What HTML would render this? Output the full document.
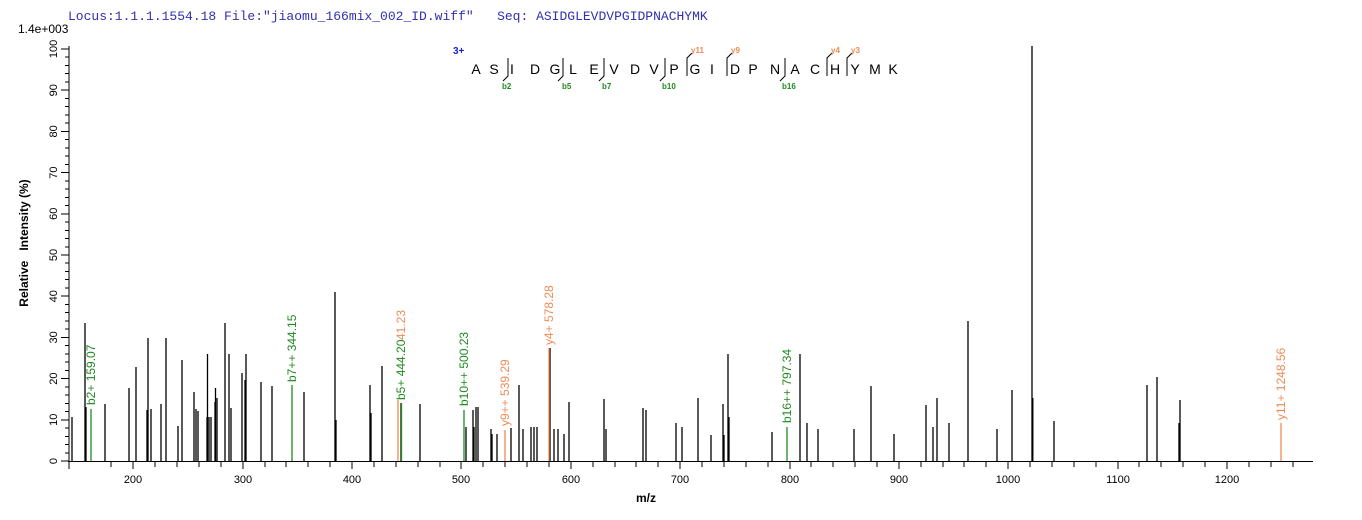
<!DOCTYPE html>
<html><head><meta charset="utf-8"><style>
html,body{margin:0;padding:0;background:#fff;}
svg{display:block;font-family:"Liberation Sans",Arial,sans-serif;}
</style></head><body>
<svg width="1362" height="520" viewBox="0 0 1362 520" xmlns="http://www.w3.org/2000/svg">
<text x="68" y="20" font-family="Liberation Mono, monospace" font-size="13" fill="#3030b0" xml:space="preserve">Locus:1.1.1.1554.18 File:"jiaomu_166mix_002_ID.wiff"   Seq: ASIDGLEVDVPGIDPNACHYMK</text>
<text x="18" y="33" font-size="12" fill="#000">1.4e+003</text>

<!-- axes -->
<g stroke="#000" stroke-width="1" shape-rendering="crispEdges">
<line x1="69" y1="46" x2="69" y2="462"/>
<line x1="68" y1="461.5" x2="1313" y2="461.5"/>
<!-- y ticks -->
<g id="yt"></g>
</g>
<g stroke="#000" shape-rendering="crispEdges">
<line x1="61" x2="69" y1="461" y2="461"/><line x1="65" x2="69" y1="452.8" y2="452.8"/><line x1="65" x2="69" y1="444.5" y2="444.5"/><line x1="65" x2="69" y1="436.3" y2="436.3"/><line x1="65" x2="69" y1="428" y2="428"/>
<line x1="61" x2="69" y1="419.8" y2="419.8"/><line x1="65" x2="69" y1="411.6" y2="411.6"/><line x1="65" x2="69" y1="403.3" y2="403.3"/><line x1="65" x2="69" y1="395.1" y2="395.1"/><line x1="65" x2="69" y1="386.8" y2="386.8"/>
<line x1="61" x2="69" y1="378.6" y2="378.6"/><line x1="65" x2="69" y1="370.4" y2="370.4"/><line x1="65" x2="69" y1="362.1" y2="362.1"/><line x1="65" x2="69" y1="353.9" y2="353.9"/><line x1="65" x2="69" y1="345.6" y2="345.6"/>
<line x1="61" x2="69" y1="337.4" y2="337.4"/><line x1="65" x2="69" y1="329.2" y2="329.2"/><line x1="65" x2="69" y1="320.9" y2="320.9"/><line x1="65" x2="69" y1="312.7" y2="312.7"/><line x1="65" x2="69" y1="304.4" y2="304.4"/>
<line x1="61" x2="69" y1="296.2" y2="296.2"/><line x1="65" x2="69" y1="288" y2="288"/><line x1="65" x2="69" y1="279.7" y2="279.7"/><line x1="65" x2="69" y1="271.5" y2="271.5"/><line x1="65" x2="69" y1="263.2" y2="263.2"/>
<line x1="61" x2="69" y1="255" y2="255"/><line x1="65" x2="69" y1="246.8" y2="246.8"/><line x1="65" x2="69" y1="238.5" y2="238.5"/><line x1="65" x2="69" y1="230.3" y2="230.3"/><line x1="65" x2="69" y1="222" y2="222"/>
<line x1="61" x2="69" y1="213.8" y2="213.8"/><line x1="65" x2="69" y1="205.6" y2="205.6"/><line x1="65" x2="69" y1="197.3" y2="197.3"/><line x1="65" x2="69" y1="189.1" y2="189.1"/><line x1="65" x2="69" y1="180.8" y2="180.8"/>
<line x1="61" x2="69" y1="172.6" y2="172.6"/><line x1="65" x2="69" y1="164.4" y2="164.4"/><line x1="65" x2="69" y1="156.1" y2="156.1"/><line x1="65" x2="69" y1="147.9" y2="147.9"/><line x1="65" x2="69" y1="139.6" y2="139.6"/>
<line x1="61" x2="69" y1="131.4" y2="131.4"/><line x1="65" x2="69" y1="123.2" y2="123.2"/><line x1="65" x2="69" y1="114.9" y2="114.9"/><line x1="65" x2="69" y1="106.7" y2="106.7"/><line x1="65" x2="69" y1="98.4" y2="98.4"/>
<line x1="61" x2="69" y1="90.2" y2="90.2"/><line x1="65" x2="69" y1="82" y2="82"/><line x1="65" x2="69" y1="73.7" y2="73.7"/><line x1="65" x2="69" y1="65.5" y2="65.5"/><line x1="65" x2="69" y1="57.2" y2="57.2"/>
<line x1="61" x2="69" y1="49" y2="49"/>
<!-- x ticks every 20 -->
<line x1="69" x2="69" y1="461" y2="469"/>
<line x1="111" x2="111" y1="461" y2="467"/><line x1="133" x2="133" y1="461" y2="469"/><line x1="155" x2="155" y1="461" y2="467"/><line x1="177" x2="177" y1="461" y2="467"/><line x1="199" x2="199" y1="461" y2="467"/><line x1="221" x2="221" y1="461" y2="467"/>
<line x1="243" x2="243" y1="461" y2="469"/><line x1="265" x2="265" y1="461" y2="467"/><line x1="286" x2="286" y1="461" y2="467"/><line x1="308" x2="308" y1="461" y2="467"/><line x1="330" x2="330" y1="461" y2="467"/>
<line x1="352" x2="352" y1="461" y2="469"/><line x1="374" x2="374" y1="461" y2="467"/><line x1="396" x2="396" y1="461" y2="467"/><line x1="418" x2="418" y1="461" y2="467"/><line x1="440" x2="440" y1="461" y2="467"/>
<line x1="461" x2="461" y1="461" y2="469"/><line x1="483" x2="483" y1="461" y2="467"/><line x1="505" x2="505" y1="461" y2="467"/><line x1="527" x2="527" y1="461" y2="467"/><line x1="549" x2="549" y1="461" y2="467"/>
<line x1="571" x2="571" y1="461" y2="469"/><line x1="593" x2="593" y1="461" y2="467"/><line x1="615" x2="615" y1="461" y2="467"/><line x1="636" x2="636" y1="461" y2="467"/><line x1="658" x2="658" y1="461" y2="467"/>
<line x1="680" x2="680" y1="461" y2="469"/><line x1="702" x2="702" y1="461" y2="467"/><line x1="724" x2="724" y1="461" y2="467"/><line x1="746" x2="746" y1="461" y2="467"/><line x1="768" x2="768" y1="461" y2="467"/>
<line x1="790" x2="790" y1="461" y2="469"/><line x1="811" x2="811" y1="461" y2="467"/><line x1="833" x2="833" y1="461" y2="467"/><line x1="855" x2="855" y1="461" y2="467"/><line x1="877" x2="877" y1="461" y2="467"/>
<line x1="899" x2="899" y1="461" y2="469"/><line x1="921" x2="921" y1="461" y2="467"/><line x1="943" x2="943" y1="461" y2="467"/><line x1="964" x2="964" y1="461" y2="467"/><line x1="986" x2="986" y1="461" y2="467"/>
<line x1="1008" x2="1008" y1="461" y2="469"/><line x1="1030" x2="1030" y1="461" y2="467"/><line x1="1052" x2="1052" y1="461" y2="467"/><line x1="1074" x2="1074" y1="461" y2="467"/><line x1="1096" x2="1096" y1="461" y2="467"/>
<line x1="1118" x2="1118" y1="461" y2="469"/><line x1="1139" x2="1139" y1="461" y2="467"/><line x1="1161" x2="1161" y1="461" y2="467"/><line x1="1183" x2="1183" y1="461" y2="467"/><line x1="1205" x2="1205" y1="461" y2="467"/>
<line x1="1227" x2="1227" y1="461" y2="469"/><line x1="1249" x2="1249" y1="461" y2="467"/><line x1="1271" x2="1271" y1="461" y2="467"/><line x1="1293" x2="1293" y1="461" y2="467"/>
</g>
<g font-size="11" fill="#000" text-anchor="middle">
<text x="133" y="483">200</text><text x="243" y="483">300</text><text x="352" y="483">400</text><text x="461" y="483">500</text><text x="571" y="483">600</text><text x="680" y="483">700</text><text x="790" y="483">800</text><text x="899" y="483">900</text><text x="1008" y="483">1000</text><text x="1118" y="483">1100</text><text x="1227" y="483">1200</text>
</g>
<g font-size="11" fill="#000" text-anchor="middle">
<text transform="translate(57,461) rotate(-90)">0</text><text transform="translate(57,419.8) rotate(-90)">10</text><text transform="translate(57,378.6) rotate(-90)">20</text><text transform="translate(57,337.4) rotate(-90)">30</text><text transform="translate(57,296.2) rotate(-90)">40</text><text transform="translate(57,255) rotate(-90)">50</text><text transform="translate(57,213.8) rotate(-90)">60</text><text transform="translate(57,172.6) rotate(-90)">70</text><text transform="translate(57,131.4) rotate(-90)">80</text><text transform="translate(57,90.2) rotate(-90)">90</text><text transform="translate(57,49) rotate(-90)">100</text>
</g>
<text transform="translate(28,243) rotate(-90)" font-size="12" font-weight="bold" text-anchor="middle" xml:space="preserve">Relative   Intensity (%)</text>
<text x="646" y="502" font-size="12" font-weight="bold" text-anchor="middle">m/z</text>

<!-- black peaks -->
<g stroke="#000" stroke-width="1.3" fill="none">
<path d="M72 461V417M85 461V323M86 461V407M105 461V404M129 461V388M136 461V367M147 461V410M148 461V338M151 461V409M161 461V404M166 461V338M178 461V426M182 461V360M194 461V392M196 461V409M198 461V411M207 461V417M207.5 461V354M209 461V417M211 461V417M215 461V402M215.5 461V388M217 461V398M225 461V323M229 461V354M231 461V408M242 461V373M245 461V380M246 461V354M261 461V382M272 461V386M304 461V392M335 461V292M336 461V420M370 461V385M371 461V413M382 461V366M401 461V403M420 461V404M466 461V427M473 461V410M474 461V427M476 461V407M478 461V407M491 461V429M492 461V434M497 461V434M511 461V428M519 461V385M523 461V429M531 461V427M534 461V427M537 461V427M550 461V348M554 461V429M558 461V429M564 461V434M569 461V402M604 461V399M606 461V429M643 461V408M646 461V410M676 461V423M682 461V427M698 461V398M711 461V435M723 461V404M724 461V435M728 461V354M729 461V417M772 461V432M800 461V354M807 461V423M818 461V429M854 461V429M871 461V386M894 461V434M926 461V405M933 461V427M937 461V398M949 461V423M968 461V321M997 461V429M1012 461V390M1032 461V46M1032.8 461V398M1054 461V421M1147 461V385M1157 461V377M1179 461V423M1180 461V400"/>
</g>
<!-- green peaks -->
<g stroke="#1f8a1f" stroke-width="1.3">
<path d="M91 461V409M292 461V385M401.5 461V403M464 461V410M787 461V427"/>
</g>
<g stroke="#f08a55" stroke-width="1.3">
<path d="M398 461V400M505 461V430M549 461V348M1281 461V423"/>
</g>
<!-- peak labels -->
<g font-size="12">
<text transform="translate(95,405) rotate(-90)" fill="#1f8a1f">b2+ 159.07</text>
<text transform="translate(296,382) rotate(-90)" fill="#1f8a1f">b7++ 344.15</text>
<text transform="translate(405,340) rotate(-90)" fill="#f08a55">41.23</text>
<text transform="translate(405,400) rotate(-90)" fill="#1f8a1f">b5+ 444.20</text>
<text transform="translate(468,406) rotate(-90)" fill="#1f8a1f">b10++ 500.23</text>
<text transform="translate(509,426) rotate(-90)" fill="#f08a55">y9++ 539.29</text>
<text transform="translate(553,345) rotate(-90)" fill="#f08a55">y4+ 578.28</text>
<text transform="translate(791,423) rotate(-90)" fill="#1f8a1f">b16++ 797.34</text>
<text transform="translate(1285,420) rotate(-90)" fill="#f08a55">y11+ 1248.56</text>
</g>

<!-- peptide -->
<text x="453" y="54" font-size="10" font-weight="bold" fill="#2020c0">3+</text>
<g font-size="14" fill="#000" text-anchor="middle">
<text x="476" y="74">A</text><text x="494" y="74">S</text><text x="512" y="74">I</text><text x="535" y="74">D</text><text x="555" y="74">G</text><text x="573" y="74">L</text><text x="594" y="74">E</text><text x="614" y="74">V</text><text x="635" y="74">D</text><text x="654" y="74">V</text><text x="674" y="74">P</text><text x="695" y="74">G</text><text x="712" y="74">I</text><text x="735" y="74">D</text><text x="753" y="74">P</text><text x="775" y="74">N</text><text x="795" y="74">A</text><text x="815" y="74">C</text><text x="835" y="74">H</text><text x="855" y="74">Y</text><text x="875" y="74">M</text><text x="893" y="74">K</text>
</g>
<g stroke="#000" stroke-width="1" fill="none">
<path d="M508 58V76L503 81M563 58V76L558 81M604 58V76L599 81M665 58V76L660 81M785 58V76L780 81"/>
<path d="M687 76V58L692 53M727 76V58L732 53M827 76V58L832 53M847 76V58L852 53"/>
</g>
<g font-size="8" fill="#1f8a1f" font-weight="bold">
<text x="502" y="89">b2</text><text x="562" y="89">b5</text><text x="602" y="89">b7</text><text x="662" y="89">b10</text><text x="782" y="89">b16</text>
</g>
<g font-size="8" fill="#f08a55" font-weight="bold">
<text x="691" y="53">y11</text><text x="731" y="53">y9</text><text x="831" y="53">y4</text><text x="851" y="53">y3</text>
</g>
</svg>
</body></html>
